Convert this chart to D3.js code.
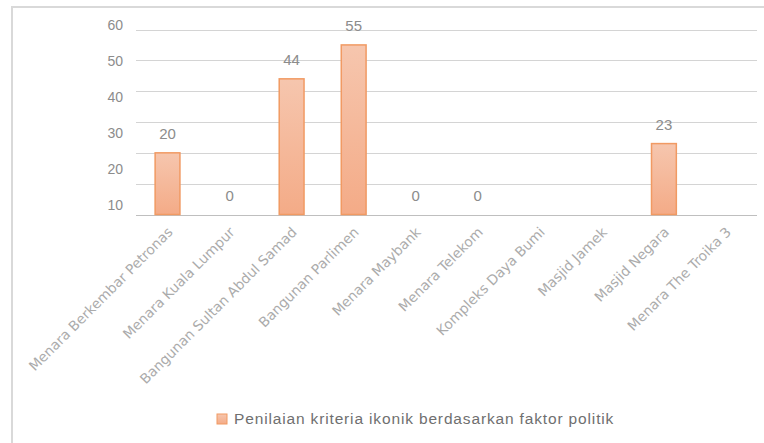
<!DOCTYPE html>
<html>
<head>
<meta charset="utf-8">
<script src="https://cdn.jsdelivr.net/npm/d3@7"></script>
<style>
  body { margin: 0; background: #fff; }
  svg { display: block; }
</style>
</head>
<body>
<div id="chart"></div>
<script>
const categories = [
  'Menara Berkembar Petronas', 'Menara Kuala Lumpur', 'Bangunan Sultan Abdul Samad',
  'Bangunan Parlimen', 'Menara Maybank', 'Menara Telekom', 'Kompleks Daya Bumi',
  'Masjid Jamek', 'Masjid Negara', 'Menara The Troika 3'
];
const values = [20, 0, 44, 55, 0, 0, null, null, 23, null];
const tickValues = [10, 20, 30, 40, 50, 60];
const seriesName = 'Penilaian kriteria ikonik berdasarkan faktor politik';

const width = 764;
const height = 443;

const svg = d3.select('#chart')
  .append('svg')
  .attr('width', width)
  .attr('height', height);

const defs = svg.append('defs');
const grad = defs.append('linearGradient')
  .attr('id', 'barGrad')
  .attr('x1', 0).attr('y1', 0).attr('x2', 0).attr('y2', 1);
grad.append('stop').attr('offset', '0%').attr('stop-color', '#f6c6ae');
grad.append('stop').attr('offset', '100%').attr('stop-color', '#f4ab87');

// outer frame (top + left only visible)
svg.append('path')
  .attr('d', `M12,${height} V7 H${width}`)
  .attr('fill', 'none')
  .attr('stroke', '#d9d9d9')
  .attr('stroke-width', 2);

const x = d3.scaleBand()
  .domain(categories)
  .range([136.5, 757])
  .paddingInner(0.6)
  .paddingOuter(0.3);

const y = d3.scaleLinear()
  .domain([0, 60])
  .range([214.5, 29.5]);

// tick labels sit offset from the gridlines in the original
const yLabel = d3.scaleLinear()
  .domain([10, 60])
  .range([205, 25]);

// gridlines
svg.append('g')
  .selectAll('line')
  .data(d3.range(0, 61, 10))
  .enter()
  .append('line')
  .attr('x1', 136)
  .attr('x2', 757)
  .attr('y1', (d) => Math.round(y(d)) + 0.5)
  .attr('y2', (d) => Math.round(y(d)) + 0.5)
  .attr('stroke', (d) => d === 0 ? '#bfbfbf' : '#d4d4d4')
  .attr('stroke-width', 1.2);

svg.append('g')
  .selectAll('text')
  .data(tickValues)
  .enter()
  .append('text')
  .attr('x', 123)
  .attr('y', (d) => yLabel(d))
  .attr('dy', '0.35em')
  .attr('text-anchor', 'end')
  .attr('font-family', 'Liberation Sans, Arial, sans-serif')
  .attr('font-size', 14)
  .attr('fill', '#8c8c8c')
  .text((d) => d);

const data = categories.map((c, i) => ({ key: c, value: values[i] }));

const bars = svg.append('g')
  .selectAll('g')
  .data(data)
  .enter()
  .append('g');

bars.filter((d) => d.value)
  .append('rect')
  .attr('x', (d) => x(d.key))
  .attr('y', (d) => y(d.value))
  .attr('width', x.bandwidth())
  .attr('height', (d) => y(0) - y(d.value))
  .attr('fill', 'url(#barGrad)')
  .attr('stroke', '#f19a63')
  .attr('stroke-width', 1.5);

bars.filter((d) => d.value !== null)
  .append('text')
  .attr('x', (d) => x(d.key) + x.bandwidth() / 2)
  .attr('y', (d) => y(d.value) - 19)
  .attr('dy', '0.35em')
  .attr('text-anchor', 'middle')
  .attr('font-family', 'Liberation Sans, Arial, sans-serif')
  .attr('font-size', 15)
  .attr('fill', '#8c8c8c')
  .text((d) => d.value);

// category labels, rotated
svg.append('g')
  .selectAll('text')
  .data(categories)
  .enter()
  .append('text')
  .attr('transform', (d) => `translate(${x(d) + x.bandwidth() / 2 + 6}, 233) rotate(-45)`)
  .attr('text-anchor', 'end')
  .attr('font-family', 'DejaVu Sans, sans-serif')
  .attr('font-size', 13.8)
  .attr('fill', '#ababab')
  .text((d) => d);

// legend
const legend = svg.append('g')
  .attr('transform', 'translate(217, 414)');
legend.append('rect')
  .attr('width', 10)
  .attr('height', 10)
  .attr('fill', 'url(#barGrad)')
  .attr('stroke', '#f19a63')
  .attr('stroke-width', 1);
legend.append('text')
  .attr('x', 17)
  .attr('y', 5)
  .attr('dy', '0.35em')
  .attr('font-family', 'Liberation Sans, Arial, sans-serif')
  .attr('font-size', 15.5)
  .attr('letter-spacing', 0.85)
  .attr('fill', '#6f6f6f')
  .text(seriesName);
</script>
</body>
</html>
